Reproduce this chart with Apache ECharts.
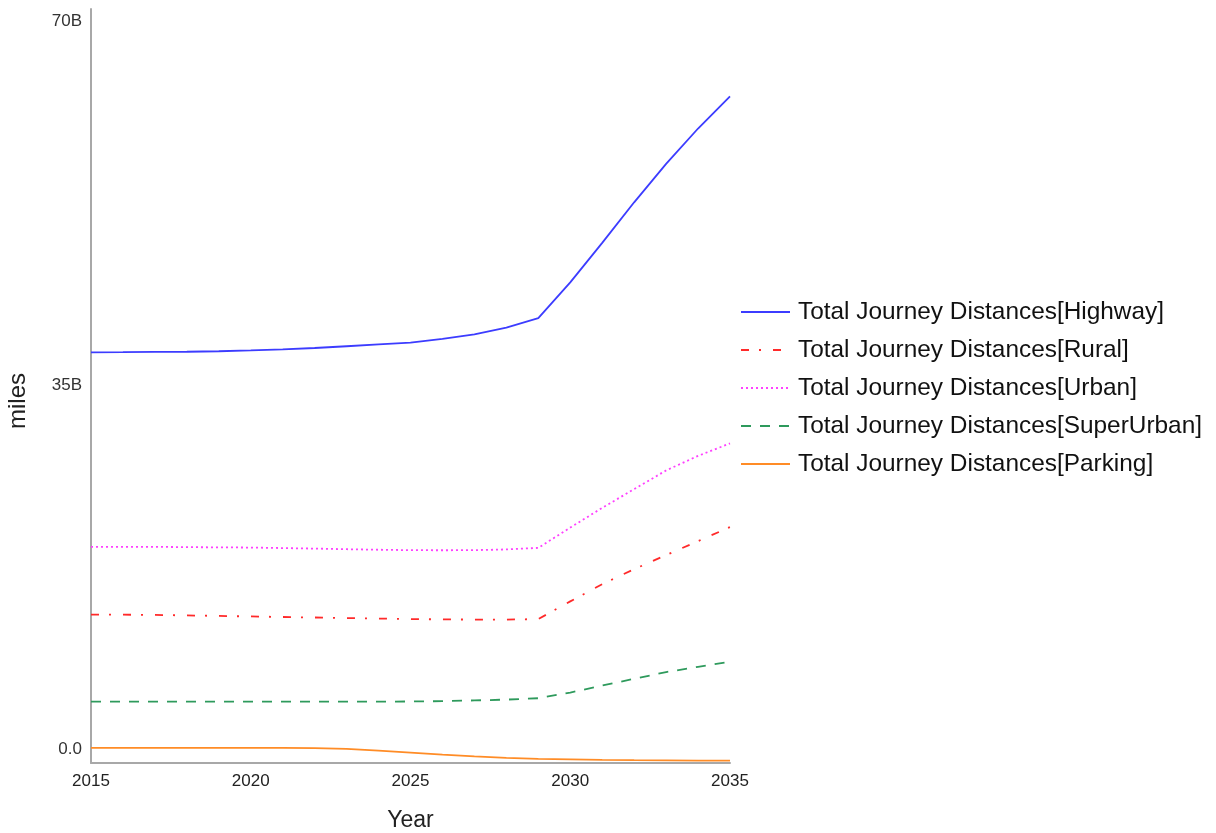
<!DOCTYPE html>
<html>
<head>
<meta charset="utf-8">
<script src="https://cdn.jsdelivr.net/npm/echarts@6/dist/echarts.min.js"></script>
<style>
html,body{margin:0;padding:0;background:#fff;}
#chart{width:1216px;height:833px;}
</style>
</head>
<body>
<div id="chart"></div>
<script>
const years = [2015,2016,2017,2018,2019,2020,2021,2022,2023,2024,2025,2026,2027,2028,2029,2030,2031,2032,2033,2034,2035];
// values in billions of miles
const highway    = [38.17,38.18,38.2,38.22,38.27,38.35,38.45,38.58,38.75,38.93,39.1,39.45,39.9,40.55,41.45,44.9,48.7,52.6,56.3,59.7,62.8];
const rural      = [12.93,12.92,12.9,12.85,12.8,12.75,12.7,12.65,12.6,12.55,12.5,12.47,12.45,12.45,12.5,14.2,15.85,17.3,18.65,20.0,21.35];
const urban      = [19.45,19.45,19.45,19.42,19.4,19.38,19.33,19.28,19.22,19.17,19.13,19.12,19.13,19.2,19.35,21.3,23.2,25.0,26.8,28.2,29.4];
const superUrban = [4.55,4.55,4.55,4.55,4.55,4.55,4.55,4.55,4.55,4.55,4.57,4.6,4.67,4.75,4.88,5.43,6.1,6.75,7.4,7.9,8.4];
const parking    = [0.1,0.1,0.1,0.1,0.1,0.1,0.1,0.08,0.0,-0.15,-0.35,-0.55,-0.72,-0.85,-0.95,-1.0,-1.05,-1.08,-1.1,-1.12,-1.13];
const seriesNames = ['Total Journey Distances[Highway]','Total Journey Distances[Rural]','Total Journey Distances[Urban]','Total Journey Distances[SuperUrban]','Total Journey Distances[Parking]'];
const yTickValues = [0, 35e9, 70e9];
const xTicks = [2015, 2020, 2025, 2030, 2035];

const B = 1e9;
const toPairs = arr => years.map((y, i) => [y, arr[i] * B]);

const styles = [
  {color:'#3c3cff', type:'solid'},
  {color:'#ff2a2a', type:[8,10,2,12]},
  {color:'#ff40ff', type:[2,3]},
  {color:'#2e9a5c', type:[10,9]},
  {color:'#ff8c26', type:'solid'}
];
const datasets = [highway, rural, urban, superUrban, parking];
const FONT = 'Liberation Sans, Arial, sans-serif';

const chart = echarts.init(document.getElementById('chart'), null, {renderer:'canvas'});
chart.setOption({
  backgroundColor:'#fff',
  animation:false,
  textStyle:{fontFamily:FONT},
  grid:{left:91, right:486, top:9, bottom:70, containLabel:false, outerBoundsMode:'none'},
  legend:{
    orient:'vertical', left:735, top:295,
    itemWidth:49, itemHeight:14, itemGap:14,
    itemStyle:{opacity:0},
    textStyle:{fontSize:24.4, lineHeight:24, color:'#111', fontFamily:FONT, padding:[0,0,0,3]},
    data: seriesNames
  },
  xAxis:{
    type:'value', min:2015, max:2035, interval:5,
    name:'Year', nameLocation:'middle', nameGap:46,
    nameTextStyle:{fontSize:23, color:'#222'},
    axisLine:{show:true, onZero:false, lineStyle:{color:'#a8a8a8', width:2}},
    axisTick:{show:false},
    splitLine:{show:false},
    axisLabel:{fontSize:17, color:'#222', margin:10, formatter: v => String(v), customValues: xTicks}
  },
  yAxis:{
    type:'value', min:-1.35e9, max:71.2e9,
    name:'miles', nameLocation:'middle', nameGap:61,
    nameTextStyle:{fontSize:24, color:'#222', padding:[0,0,0,-30]},
    axisLine:{show:true, onZero:false, lineStyle:{color:'#a8a8a8', width:2}},
    axisTick:{show:false},
    splitLine:{show:false},
    axisLabel:{fontSize:17, color:'#333', margin:9, customValues: yTickValues,
      formatter: v => v === 0 ? '0.0' : (v / B) + 'B'}
  },
  series: datasets.map((d, i) => ({
    name: seriesNames[i], type:'line', data: toPairs(d),
    symbol:'none', smooth:false,
    lineStyle:{color:styles[i].color, type:styles[i].type, width:1.8},
    itemStyle:{color:styles[i].color}
  }))
});
</script>
</body>
</html>
